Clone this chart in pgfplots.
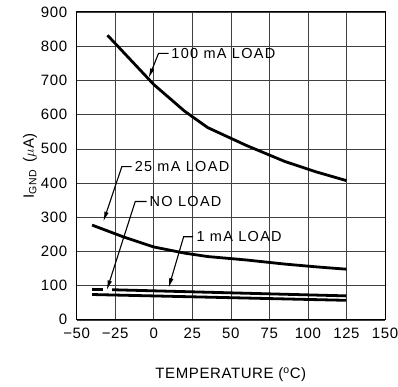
\documentclass[border=0pt]{standalone}
\usepackage{pgfplots}
\pgfplotsset{compat=1.18}
\usepackage{fontspec}
\setmainfont{Liberation Sans}
\usetikzlibrary{arrows.meta}
\begin{document}
\begin{tikzpicture}
\tikzset{lbl/.style={anchor=west, inner sep=1pt, font=\fontsize{14.5}{16}\selectfont\addfontfeatures{LetterSpace=9}},
         lead/.style={line width=1.1pt, -{Latex[length=10pt,width=4.5pt]}}}
\begin{axis}[
    scale only axis,
    width=308.5pt, height=308pt,
    xmin=-50, xmax=150,
    ymin=0, ymax=900,
    xtick={-50,-25,...,150},
    xticklabels={−50,−25,0,25,50,75,100,125,150},
    ytick={0,100,...,900},
    grid=major,
    grid style={black!75, line width=0.6pt},
    axis line style={line width=1pt},
    major tick length=0pt,
    /pgf/number format/assume math mode=true,
    tick label style={font=\fontsize{15}{18}\selectfont\addfontfeatures{LetterSpace=4}},
    xticklabel style={yshift=-5pt},
    yticklabel style={xshift=-6pt},
    xlabel={TEMPERATURE (\textsuperscript{o}C)},
    ylabel={I\textsubscript{GND}\, ($\mu$A)},
    label style={font=\fontsize{15}{18}\selectfont\addfontfeatures{LetterSpace=4}},
    xlabel style={at={(axis description cs:0.5,-0.179)}, anchor=center},
    ylabel style={at={(axis description cs:-0.151,0.5)}, anchor=center},
    cycle list={{black}},
    every axis plot/.append style={line width=2.8pt, no marks, line join=round},
    unbounded coords=jump,
]
% 100 mA load
\addplot coordinates {(-30,832) (-15,760) (0,688) (20,610) (35,562) (60,510) (85,463) (105,433) (125,407)};
% 25 mA load
\addplot coordinates {(-40,277) (-20,243) (0,213) (20,195) (35,185) (60,175) (85,163) (105,155) (125,148)};
% 1 mA load
\addplot coordinates {(-40,89) (-33,88.6) (-31,nan) (-27,88) (125,70)};
% no load
\addplot coordinates {(-40,74) (125,57)};

\node[lbl] at (axis cs:10.7,779) {100 mA LOAD};
\draw[lead] (axis cs:9.6,779) -- (axis cs:3.1,779) -- (axis cs:-3.4,706);
\node[lbl] at (axis cs:-13.1,448) {25 mA LOAD};
\draw[lead] (axis cs:-14.4,448) -- (axis cs:-20.7,448) -- (axis cs:-32.7,287);
\node[lbl] at (axis cs:-3.4,346) {NO LOAD};
\draw[lead] (axis cs:-4.6,346) -- (axis cs:-12,346) -- (axis cs:-30.5,86);
\node[lbl] at (axis cs:27,243) {1 mA LOAD};
\draw[lead] (axis cs:25.6,243) -- (axis cs:19.4,243) -- (axis cs:9.6,93);

\coordinate (tl) at (rel axis cs:0,1);
\coordinate (br) at (rel axis cs:1,0);
\end{axis}
\pgfresetboundingbox
\path ([shift={(-76.7pt,12pt)}]tl) rectangle ([shift={(13pt,-67pt)}]br);
\end{tikzpicture}
\end{document}
